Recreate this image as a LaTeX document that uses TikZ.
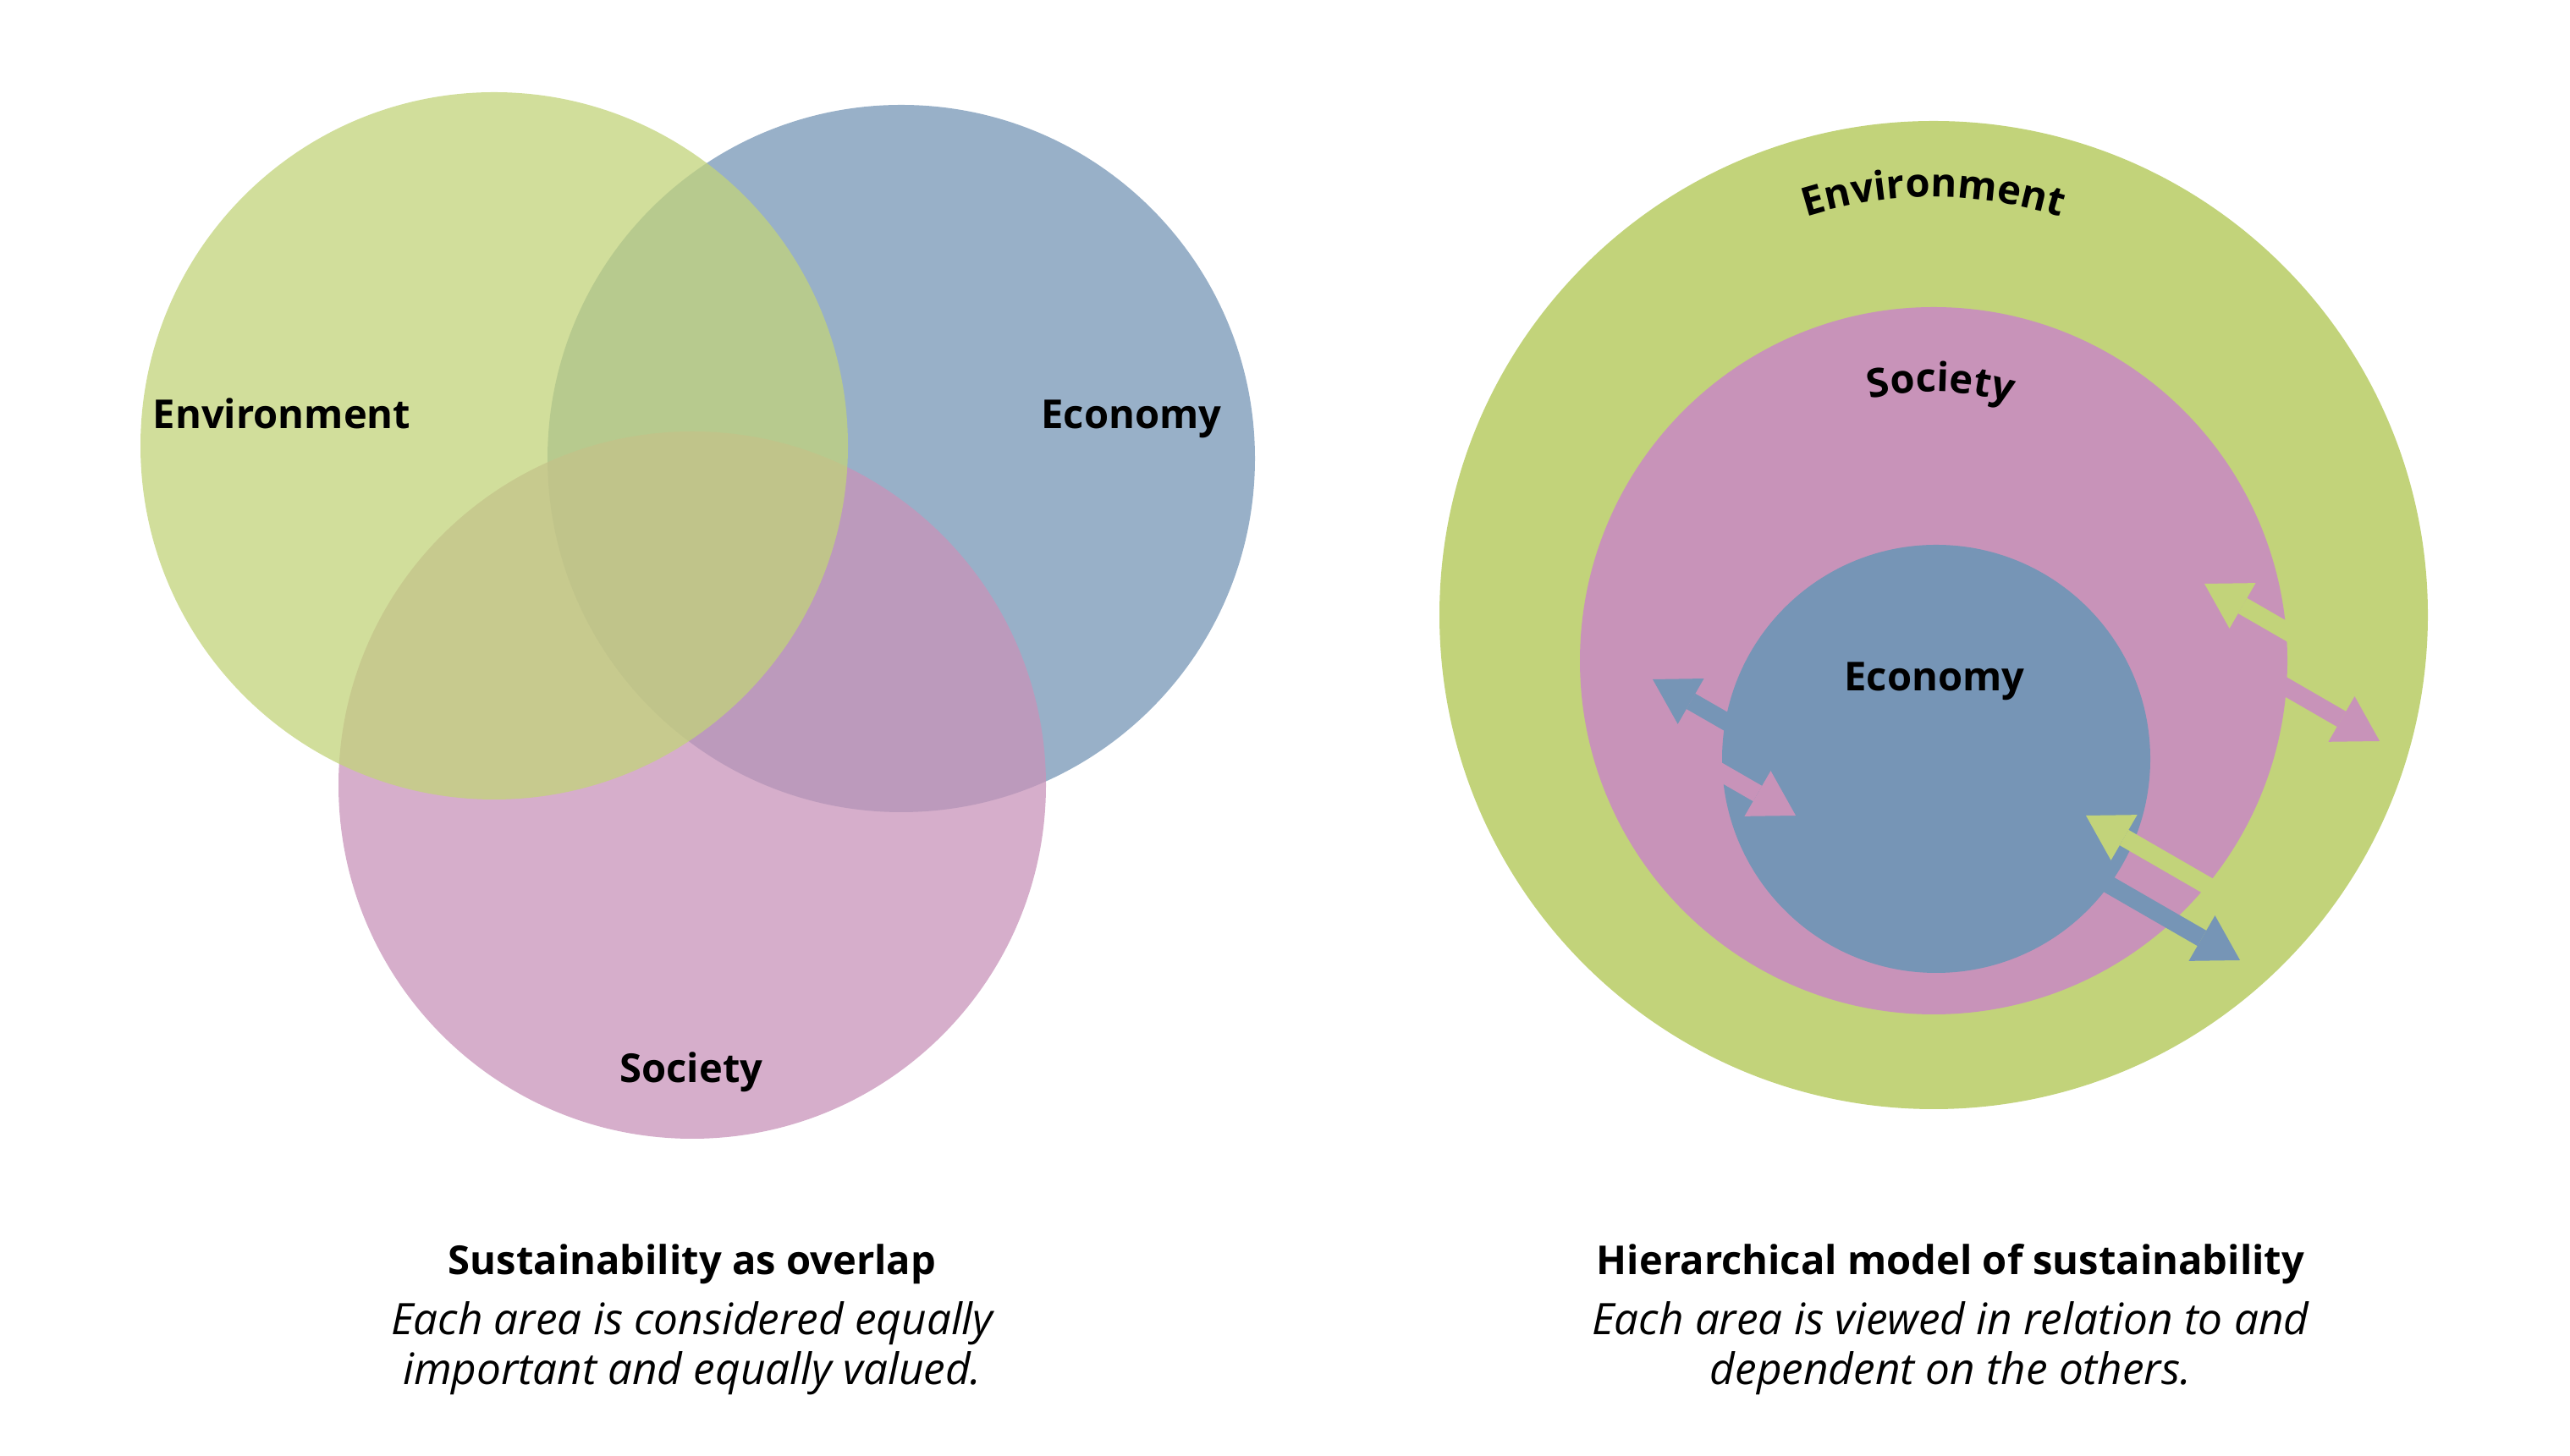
\documentclass[tikz,border=0pt]{standalone}
\usepackage{fontspec}
\setmainfont{Open Sans}
\usetikzlibrary{arrows.meta,decorations.text}
\definecolor{envgreen}{HTML}{C2D37A}
\definecolor{ecoblue}{HTML}{7695B6}
\definecolor{socpink}{HTML}{C893B9}
\newcommand{\labfont}{\fontsize{13.4}{16}\selectfont\bfseries}
\newcommand{\capfont}{\fontsize{14.6}{16.8}\selectfont\itshape}
\tikzset{
lab/.style={font=\labfont,anchor=base,inner sep=0pt},
captitle/.style={font=\labfont,anchor=base,inner sep=0pt},
capline/.style={font=\capfont,anchor=base,inner sep=0pt},
venn/.style={fill opacity=0.75},
flow/.style={line width=0.21cm,-{Triangle[width=0.62cm,length=0.52cm,line width=0pt]}}
}
\begin{document}
\begin{tikzpicture}[scale=1]
\useasboundingbox (0,0) rectangle (30.37,17.21);

\coordinate (envL) at (5.84,11.94);
\coordinate (ecoL) at (10.65,11.79);
\coordinate (socL) at (8.18,7.93);

\coordinate (envR) at (22.85,9.94);
\coordinate (socR) at (22.85,9.40);
\coordinate (ecoR) at (22.88,8.24);

\fill[venn,ecoblue] (ecoL) circle (4.18);
\fill[venn,socpink] (socL) circle (4.18);
\fill[venn,envgreen] (envL) circle (4.18);

\node[lab] (envlabL) at (3.33,12.14) {Environment};
\node[lab] (ecolabL) at (13.37,12.14) {Economy};
\node[lab] (soclabL) at (8.17,4.41) {Society};

\fill[envgreen] (envR) circle (5.84);
\fill[socpink] (socR) circle (4.18);
\fill[ecoblue] (ecoR) circle (2.53);

\path[decorate,decoration={text along path,text={|\labfont|Environment},text align=center}]
 (envR) ++(135:4.94) arc[start angle=135,end angle=45,radius=4.94];
\path[decorate,decoration={text along path,text={|\labfont|Society},text align=center}]
 (socR) ++(128.5:3.18) arc[start angle=128.5,end angle=48.5,radius=3.18];
\node[lab] (ecolabR) at (22.86,9.04) {Economy};

\coordinate (a1) at (19.53,9.18);
\coordinate (a2) at (20.66,8.53);
\coordinate (a3) at (19.92,8.32);
\coordinate (a4) at (21.22,7.57);
\draw[flow,ecoblue] (a2) -- (a1);
\draw[flow,socpink] (a3) -- (a4);

\coordinate (b1) at (26.05,10.31);
\coordinate (b2) at (27.61,9.41);
\coordinate (b3) at (26.39,9.45);
\coordinate (b4) at (28.12,8.45);
\draw[flow,envgreen] (b2) -- (b1);
\draw[flow,socpink] (b3) -- (b4);

\coordinate (c1) at (24.65,7.57);
\coordinate (c2) at (26.90,6.27);
\coordinate (c3) at (23.87,7.36);
\coordinate (c4) at (26.47,5.86);
\draw[flow,envgreen] (c2) -- (c1);
\draw[flow,ecoblue] (c3) -- (c4);

\node[captitle] (titleL) at (8.18,2.14) {Sustainability as overlap};
\node[capline] (lineL1) at (8.18,1.43) {Each area is considered equally};
\node[capline] (lineL2) at (8.18,0.84) {important and equally valued.};

\node[captitle] (titleR) at (23.05,2.14) {Hierarchical model of sustainability};
\node[capline] (lineR1) at (23.05,1.43) {Each area is viewed in relation to and};
\node[capline] (lineR2) at (23.05,0.84) {dependent on the others.};
\end{tikzpicture}
\end{document}
